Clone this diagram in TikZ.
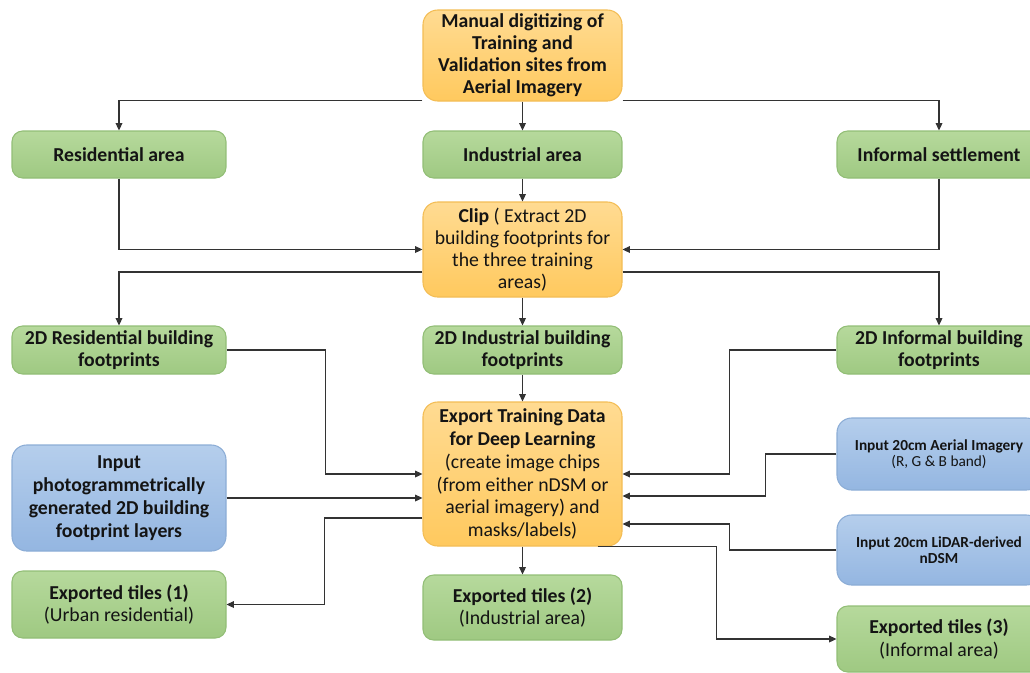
\documentclass[tikz,border=0pt]{standalone}
\usepackage{fontspec}
\setmainfont{Carlito}
\usetikzlibrary{arrows.meta,calc}

\definecolor{ortop}{HTML}{FFDB92}
\definecolor{orbot}{HTML}{FFC95E}
\definecolor{ordraw}{HTML}{F3BD55}
\definecolor{grtop}{HTML}{B6D99C}
\definecolor{grbot}{HTML}{9FC982}
\definecolor{grdraw}{HTML}{92BE76}
\definecolor{bltop}{HTML}{B5CEEC}
\definecolor{blbot}{HTML}{94B6E1}
\definecolor{bldraw}{HTML}{8CADD6}
\definecolor{linec}{HTML}{333333}

\newcommand{\mainsize}{\fontsize{14.8}{16.6}\selectfont}
\newcommand{\bigsize}{\fontsize{14.8}{17.2}\selectfont}
\newcommand{\smallsize}{\fontsize{11.5}{11.8}\selectfont}

\tikzset{
  base/.style={rectangle, rounded corners=8pt, inner sep=0pt, align=center,
    text=black!92, font=\mainsize, line width=0.8pt},
  orbox/.style={base, top color=ortop, bottom color=orbot, draw=ordraw, rounded corners=11pt},
  grbox/.style={base, top color=grtop, bottom color=grbot, draw=grdraw},
  blbox/.style={base, top color=bltop, bottom color=blbot, draw=bldraw, rounded corners=11pt},
  wide/.style={minimum width=160.5pt},
  mid/.style={minimum width=149.25pt},
  side/.style={minimum width=153pt},
  arr/.style={draw=linec, line width=0.9pt, -{Triangle[length=5.5pt,width=5pt]}}
}

\begin{document}
\begin{tikzpicture}[x=0.75pt,y=-0.75pt]
\useasboundingbox (0,0) rectangle (1030,672);

% digitizing step
\node[orbox, mid, minimum height=68.25pt, font=\mainsize\bfseries] (top) at (522.5,55.5)
  {Manual digitizing of\\Training and\\Validation sites from\\Aerial Imagery};

% training areas
\node[grbox, wide, minimum height=35.25pt, font=\mainsize\bfseries] (res) at (119,154.5) {Residential area};
\node[grbox, mid, minimum height=35.25pt, font=\mainsize\bfseries] (ind) at (522.5,154.5) {Industrial area};
\node[grbox, side, minimum height=35.25pt, font=\mainsize\bfseries] (inf) at (939,154.5) {Informal settlement};

% clip step
\node[orbox, mid, minimum height=71.25pt] (clip) at (522.5,249.5)
  {\textbf{Clip} ( Extract 2D\\building footprints for\\the three training\\areas)};

% footprints
\node[grbox, wide, minimum height=36pt, font=\mainsize\bfseries] (res2) at (119,350) {2D Residential building\\footprints};
\node[grbox, mid, minimum height=36pt, font=\mainsize\bfseries] (ind2) at (522.5,350) {2D Industrial building\\footprints};
\node[grbox, side, minimum height=36pt, font=\mainsize\bfseries] (inf2) at (939,350) {2D Informal building\\footprints};

% export step
\node[orbox, mid, minimum height=108pt, font=\bigsize] (exp) at (522.5,474)
  {\textbf{Export Training Data}\\\textbf{for Deep Learning}\\(create image chips\\(from either nDSM or\\aerial imagery) and\\masks/labels)};

% inputs
\node[blbox, wide, minimum height=79.5pt, font=\bigsize\bfseries] (photo) at (119,498)
  {Input\\photogrammetrically\\generated 2D building\\footprint layers};
\node[blbox, side, minimum height=54pt, font=\smallsize] (aer) at (939,454)
  {\textbf{Input 20cm Aerial Imagery}\\(R, G \& B band)};
\node[blbox, side, minimum height=52.5pt, font=\smallsize\bfseries] (lid) at (939,550)
  {Input 20cm LiDAR-derived\\nDSM};

% exported tiles
\node[grbox, wide, minimum height=50.25pt] (t1) at (119,604.5)
  {\textbf{Exported tiles (1)}\\(Urban residential)};
\node[grbox, mid, minimum height=48.75pt] (t2) at (522.5,607.5)
  {\textbf{Exported tiles (2)}\\(Industrial area)};
\node[grbox, side, minimum height=49.5pt] (t3) at (939,639)
  {\textbf{Exported tiles (3)}\\(Informal area)};

% digitizing to training areas
\draw[arr] ([yshift=0.75pt]top.south west) -| (res.north);
\draw[arr] ([yshift=0.75pt]top.south east) -| (inf.north);
\draw[arr] (top.south) -- (ind.north);

% training areas to clip
\draw[arr] (res.south) |- (clip.west);
\draw[arr] (inf.south) |- (clip.east);
\draw[arr] (ind.south) -- (clip.north);

% clip to footprints
\draw[arr] ($(clip.west)+(0,22.5)$) -| (res2.north);
\draw[arr] ($(clip.east)+(0,22.5)$) -| (inf2.north);
\draw[arr] (clip.south) -- (ind2.north);

% into export
\draw[arr] (ind2.south) -- (exp.north);
\draw[arr] (res2.east) -- ++(99,0) |- (exp.west);
\draw[arr] (photo.east) -- (photo.east -| exp.west);
\draw[arr] (inf2.west) -- ++(-107,0) |- (exp.east);
\draw[arr] (aer.west) -- ++(-71,0) |- ($(exp.east)+(0,22)$);
\draw[arr] (lid.west) -- ++(-107,0) |- ($(exp.east)+(0,50)$);

% out of export
\draw[arr] ($(exp.west)+(0,44)$) -- ++(-98,0) |- (t1.east);
\draw[arr] (exp.south) -- (t2.north);
\draw[arr] ($(exp.south east)+(-25,0)$) -- ++(119,0) |- (t3.west);
\end{tikzpicture}
\end{document}
